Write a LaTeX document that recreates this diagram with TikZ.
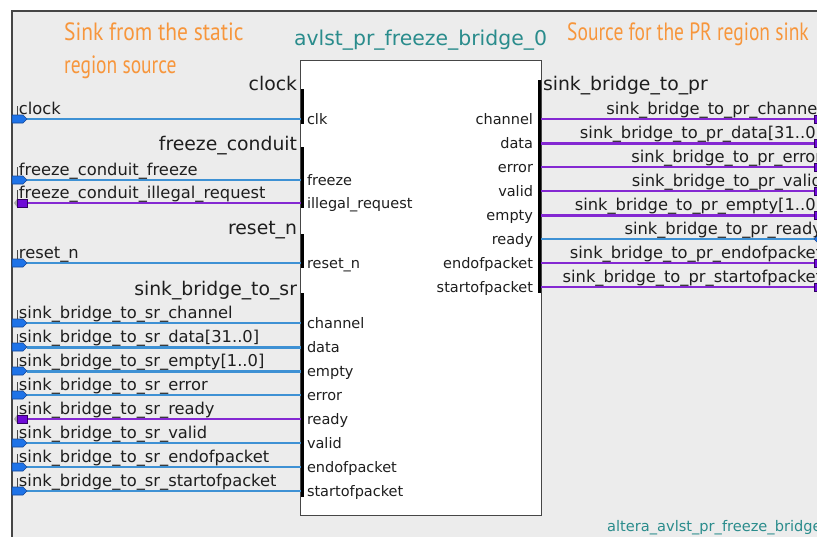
\documentclass[tikz,border=0pt]{standalone}
\usepackage{fontspec}
\setmainfont{DejaVu Sans}
\newfontfamily\notefont[FakeStretch=0.78]{PT Sans}
\newfontfamily\notefontw[FakeStretch=0.86]{PT Sans}
\definecolor{bggray}{RGB}{236,236,236}
\definecolor{framec}{RGB}{70,70,70}
\definecolor{wblue}{RGB}{62,145,212}
\definecolor{wpurple}{RGB}{132,40,210}
\definecolor{mblue}{RGB}{30,115,232}
\definecolor{mblued}{RGB}{20,70,150}
\definecolor{mpurple}{RGB}{110,10,215}
\definecolor{mpurpled}{RGB}{50,0,100}
\definecolor{txt}{RGB}{30,30,30}
\definecolor{teal}{RGB}{42,140,140}
\definecolor{orangec}{RGB}{247,150,60}
\tikzset{
  lbl/.style={inner sep=0pt, outer sep=0pt, text=txt},
  outerlbl/.style={lbl, font=\fontsize{16.3}{18}\selectfont},
  innerlbl/.style={lbl, font=\fontsize{14.5}{16}\selectfont},
  grouplbl/.style={lbl, font=\fontsize{18.8}{21}\selectfont},
  titlelbl/.style={inner sep=0pt, text=teal, font=\fontsize{20.4}{22}\selectfont},
  notelbl/.style={inner sep=0pt, text=orangec, font=\notefont\fontsize{25}{28}\selectfont},
  notelblw/.style={inner sep=0pt, text=orangec, font=\notefontw\fontsize{25}{28}\selectfont},
  thinw/.style={line width=1.4pt},
  thickw/.style={line width=3pt},
  bluew/.style={draw=wblue},
  purplew/.style={draw=wpurple},
  inmark/.pic={\draw[fill=mblue, draw=mblued, line width=0.6pt] (-15,-4)--(-4,-4)--(0,0)--(-4,4)--(-15,4)--cycle;},
  outmark/.pic={\fill[gray!70] (-13,0)--(-10,-4)--(-10,4)--cycle;
                \draw[fill=mpurple, draw=mpurpled, line width=0.6pt] (-10,-4) rectangle (0,4);},
  rpurple/.pic={\draw[fill=mpurple, draw=mpurpled, line width=0.6pt] (0,-4) rectangle (8,4);},
  rblue/.pic={\draw[fill=mblue, draw=mblued, line width=0.6pt] (0,0)--(4,-4)--(10,-4)--(10,4)--(4,4)--cycle;},
  bar/.style={fill=black},
}
\begin{document}
\begin{tikzpicture}[x=1pt,y=-1pt]
\useasboundingbox (0,0) rectangle (817,536);
\clip (0,0) rectangle (817,536);
\fill[white] (0,0) rectangle (817,536);
\fill[bggray] (12,11) rectangle (830,545);
\draw[framec, line width=1.3pt] (12,545) -- (12,11) -- (830,11);

% notes
\node[notelblw, anchor=base west] (n1) at (64,40) {Sink from the static};
\node[notelbl, anchor=base west] (n2) at (64,73) {region source};
\node[notelbl, anchor=base west] (n3) at (567,40) {Source for the PR region sink};

% title
\node[titlelbl, anchor=base] (ttl) at (420.5,45) {avlst\_pr\_freeze\_bridge\_0};
\node[inner sep=0pt, text=teal, font=\fontsize{14.6}{16}\selectfont, anchor=base west] (btm) at (607,531) {altera\_avlst\_pr\_freeze\_bridge};

% block
\node[draw=framec, fill=white, line width=1.2pt, inner sep=0pt, minimum width=241pt, minimum height=455pt, anchor=north west] (blk) at (300,60) {};

% group bars
\fill[bar] (300.5,89) rectangle (304,124);
\fill[bar] (300.5,147) rectangle (304,208);
\fill[bar] (300.5,234) rectangle (304,268);
\fill[bar] (300.5,293) rectangle (304,497);
\fill[bar] (537.5,80) rectangle (541,293);

% group labels
\node[grouplbl, anchor=base east] (g1) at (297,90) {clock};
\node[grouplbl, anchor=base east] (g2) at (297,150) {freeze\_conduit};
\node[grouplbl, anchor=base east] (g3) at (297,234) {reset\_n};
\node[grouplbl, anchor=base east] (g4) at (297,295) {sink\_bridge\_to\_sr};
\node[grouplbl, anchor=base west] (g5) at (543,90) {sink\_bridge\_to\_pr};

% left ports
\foreach \i/\y/\outer/\inner/\col/\w/\kind in {
  1/119/clock/clk/bluew/thinw/inmark,
  2/180/freeze\_conduit\_freeze/freeze/bluew/thinw/inmark,
  3/203/freeze\_conduit\_illegal\_request/illegal\_request/purplew/thinw/outmark,
  4/263/reset\_n/reset\_n/bluew/thinw/inmark,
  5/323/sink\_bridge\_to\_sr\_channel/channel/bluew/thinw/inmark,
  6/347/sink\_bridge\_to\_sr\_data[31..0]/data/bluew/thickw/inmark,
  7/371/sink\_bridge\_to\_sr\_empty[1..0]/empty/bluew/thickw/inmark,
  8/395/sink\_bridge\_to\_sr\_error/error/bluew/thinw/inmark,
  9/419/sink\_bridge\_to\_sr\_ready/ready/purplew/thinw/outmark,
  10/443/sink\_bridge\_to\_sr\_valid/valid/bluew/thinw/inmark,
  11/467/sink\_bridge\_to\_sr\_endofpacket/endofpacket/bluew/thinw/inmark,
  12/491/sink\_bridge\_to\_sr\_startofpacket/startofpacket/bluew/thinw/inmark}
{
  \coordinate (lp\i) at (27,\y);
  \coordinate (lb\i) at (300.5,\y);
  \draw[\col,\w] (lp\i) -- (lb\i);
  \pic at (lp\i) {\kind};
  \draw[framec, line width=0.8pt] (17.5,\y-13) -- (17.5,\y-4);
  \node[outerlbl, anchor=base west] (lt\i) at (19,\y-4.5) {\outer};
  \node[innerlbl, anchor=base west] (li\i) at (307,\y+5) {\inner};
}

% right ports
\foreach \j/\y/\outer/\inner/\col/\w/\kind in {
  1/119/sink\_bridge\_to\_pr\_channel/channel/purplew/thinw/rpurple,
  2/143/sink\_bridge\_to\_pr\_data[31..0]/data/purplew/thickw/rpurple,
  3/167/sink\_bridge\_to\_pr\_error/error/purplew/thinw/rpurple,
  4/191/sink\_bridge\_to\_pr\_valid/valid/purplew/thinw/rpurple,
  5/215/sink\_bridge\_to\_pr\_empty[1..0]/empty/purplew/thickw/rpurple,
  6/239/sink\_bridge\_to\_pr\_ready/ready/bluew/thinw/rblue,
  7/263/sink\_bridge\_to\_pr\_endofpacket/endofpacket/purplew/thinw/rpurple,
  8/287/sink\_bridge\_to\_pr\_startofpacket/startofpacket/purplew/thinw/rpurple}
{
  \coordinate (rb\j) at (541,\y);
  \coordinate (rp\j) at (814,\y);
  \draw[\col,\w] (rb\j) -- (rp\j);
  \pic at (rp\j) {\kind};
  \node[outerlbl, anchor=base east] (rt\j) at (822,\y-5) {\outer};
  \node[innerlbl, anchor=base east] (ri\j) at (533,\y+5) {\inner};
}
\end{tikzpicture}
\end{document}
